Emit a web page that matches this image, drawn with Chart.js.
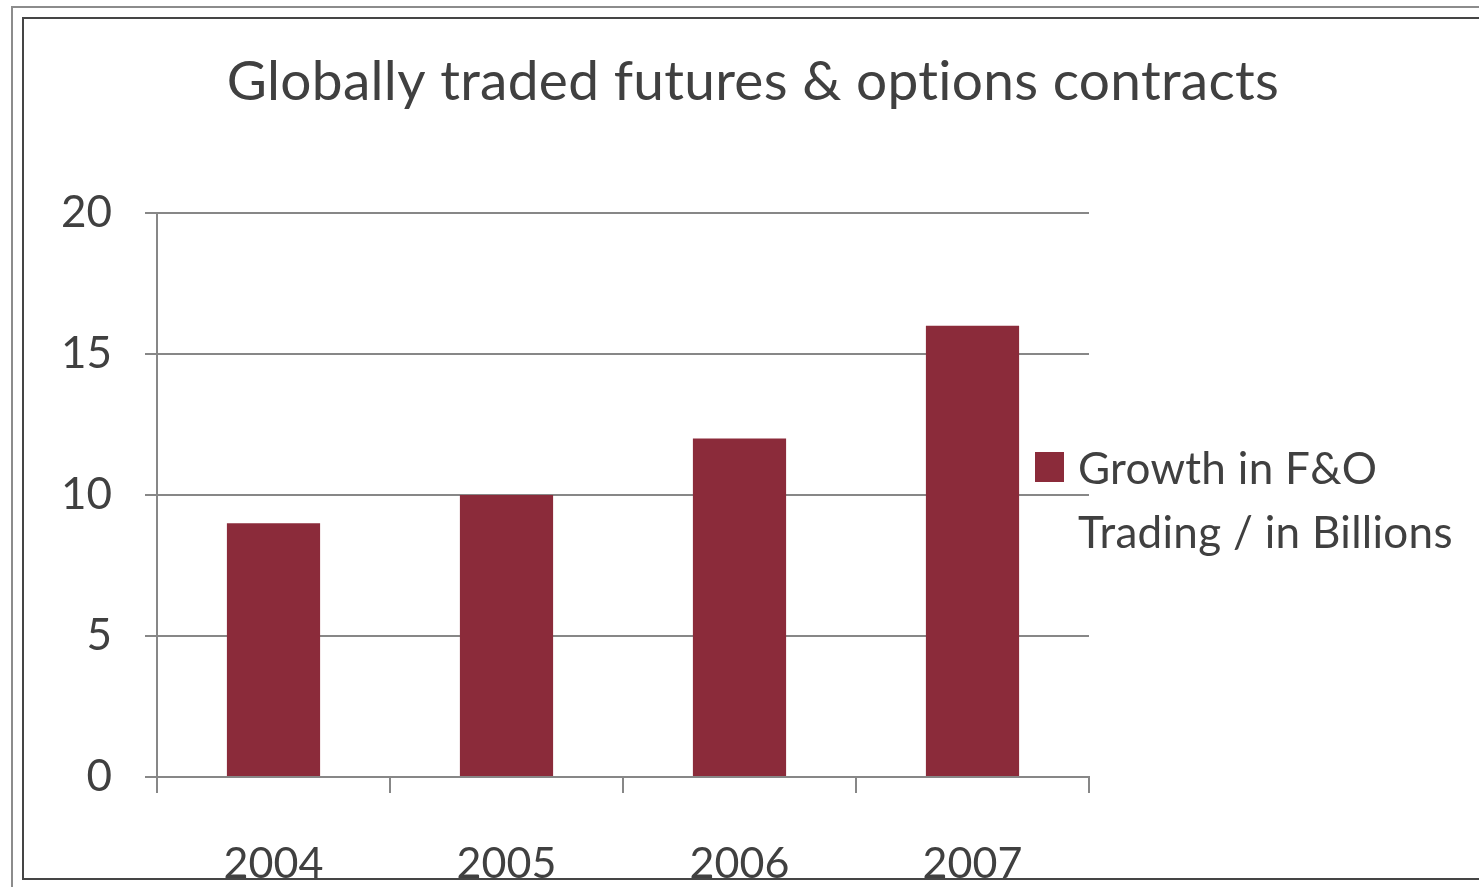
<!DOCTYPE html>
<html>
<head>
<meta charset="utf-8">
<script src="https://cdn.jsdelivr.net/npm/chart.js@4/dist/chart.umd.min.js"></script>
<style>
  html, body { margin: 0; padding: 0; background: #fff; overflow: hidden; }
  #outer { position: absolute; left: 11px; top: 6px; width: 1500px; height: 900px; border: 2px solid #8c8c8c; }
  #inner { position: absolute; left: 22px; top: 17px; width: 1500px; height: 859px; border: 2px solid #454545; }
  #wrap { position: absolute; left: 0; top: 0; width: 1479px; height: 887px; }
</style>
</head>
<body>
<div id="outer"></div>
<div id="inner"></div>
<div id="wrap"><canvas id="chart"></canvas></div>
<script>
const years = ["2004", "2005", "2006", "2007"];
const growth = [9, 10, 12, 16];
const seriesName = "Growth in F&O Trading / in Billions";
const legendLines = ["Growth in F&O", "Trading / in Billions"];
const chartTitle = "Globally traded futures & options contracts";

const textColor = "#404040";
const gridColor = "#878787";
const barColor = "#8b2b3a";
const font = "Lato";

// title and the two-line legend, drawn the way the original puts them
const overlay = {
  id: "overlay",
  afterDraw(chart) {
    const ctx = chart.ctx;
    ctx.save();
    if ("letterSpacing" in ctx) ctx.letterSpacing = "0.3px"; // no "ti" ligature
    ctx.fillStyle = textColor;
    ctx.font = "55px " + font;
    ctx.textAlign = "center";
    ctx.textBaseline = "alphabetic";
    ctx.fillText(chartTitle, 753, 100);

    ctx.fillStyle = chart.data.datasets[0].backgroundColor;
    ctx.fillRect(1035, 452, 29, 30);
    ctx.fillStyle = textColor;
    ctx.font = "44px " + font;
    ctx.textAlign = "left";
    legendLines.forEach((line, i) => ctx.fillText(line, 1078, 484 + i * 64));
    ctx.restore();
  }
};

new Chart(document.getElementById("chart"), {
  type: "bar",
  data: {
    labels: years,
    datasets: [{
      label: seriesName,
      data: growth,
      backgroundColor: barColor,
      barPercentage: 0.4,
      categoryPercentage: 1.0
    }]
  },
  options: {
    responsive: true,
    maintainAspectRatio: false,
    animation: false,
    layout: { padding: { top: 213, right: 390, bottom: 0, left: 0 } },
    plugins: {
      legend: { display: false },
      title: { display: false },
      tooltip: { enabled: false }
    },
    scales: {
      x: {
        afterFit(scale) { scale.height = 110; },
        grid: { drawOnChartArea: false, drawTicks: true, tickLength: 16, color: gridColor, lineWidth: 2 },
        border: { color: gridColor, width: 2 },
        ticks: { color: textColor, font: { family: font, size: 43 }, padding: 45 }
      },
      y: {
        min: 0,
        max: 20,
        afterFit(scale) { scale.width = 157; },
        grid: { color: gridColor, lineWidth: 2, tickLength: 12 },
        border: { color: gridColor, width: 2 },
        ticks: { stepSize: 5, color: textColor, font: { family: font, size: 44 }, padding: 33 }
      }
    }
  },
  plugins: [overlay]
});
</script>
</body>
</html>
